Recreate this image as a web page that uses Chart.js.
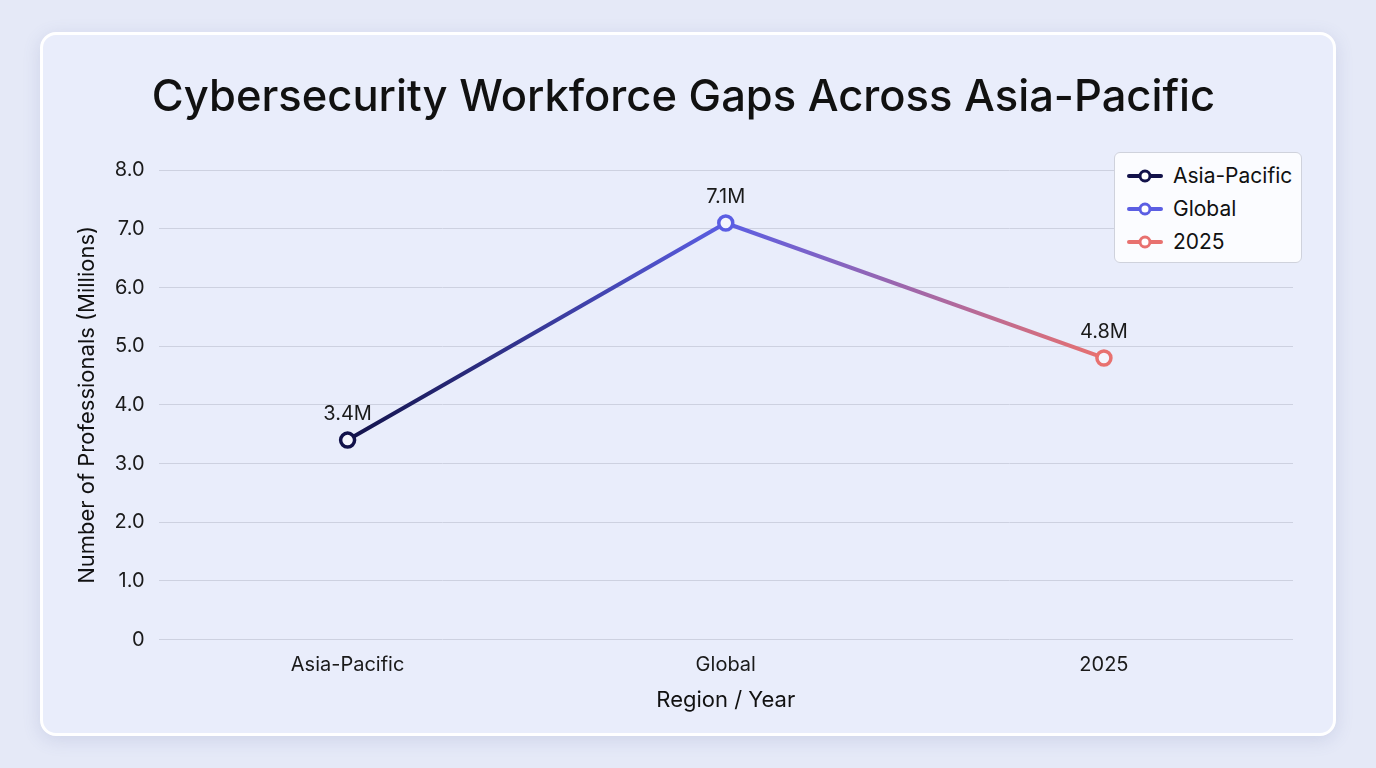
<!DOCTYPE html>
<html>
<head>
<meta charset="utf-8">
<script src="https://cdn.jsdelivr.net/npm/chart.js@4.4.1/dist/chart.umd.min.js"></script>
<style>
  html, body { margin: 0; padding: 0; }
  body {
    width: 1376px; height: 768px; overflow: hidden;
    background: #e5e9f7;
    font-family: Inter, "Noto Sans", sans-serif;
  }
  #card {
    position: absolute; left: 40px; top: 32px;
    width: 1296px; height: 704px; box-sizing: border-box;
    border: 3px solid #ffffff; border-radius: 16px;
    background: #e9edfb;
    box-shadow: 0 4px 18px rgba(90, 100, 160, 0.16);
  }
  #card canvas { position: absolute; left: 0; top: 0; }
  #legend {
    position: absolute; left: 1114px; top: 152px;
    width: 188px; height: 111px; box-sizing: border-box;
    background: #fbfcff; border: 1px solid #cfd2dc; border-radius: 6px;
    padding: 6px 0 0 12px;
  }
  .item { display: flex; align-items: center; height: 33px; font-size: 21px; color: #111; }
  .item svg { margin-right: 10px; }
</style>
</head>
<body>
<div id="card"><canvas id="chart"></canvas></div>
<div id="legend"></div>
<script>
// chart data
var categories = ['Asia-Pacific', 'Global', '2025'];
var gapValues = [3.4, 7.1, 4.8];
var pointLabels = ['3.4M', '7.1M', '4.8M'];
var pointColors = ['#12124a', '#5b5ee3', '#e8716f'];

// legend built in html
var legend = document.getElementById('legend');
categories.forEach(function(name, i) {
    var c = pointColors[i];
    legend.innerHTML += '<div class="item"><svg width="36" height="14">' +
        '<line x1="2" y1="7" x2="34" y2="7" stroke="' + c + '" stroke-width="4" stroke-linecap="round"/>' +
        '<circle cx="18" cy="7" r="5" fill="#ffffff" stroke="' + c + '" stroke-width="3"/></svg>' +
        name + '</div>';
});

var labelPlugin = {
    id: 'pointLabels',
    afterDatasetsDraw: function(chart) {
        var ctx = chart.ctx;
        var meta = chart.getDatasetMeta(0);
        ctx.save();
        ctx.font = '20px Inter, "Noto Sans", sans-serif';
        ctx.fillStyle = '#1a1a1a';
        ctx.textAlign = 'center';
        ctx.textBaseline = 'bottom';
        meta.data.forEach(function(pt, i) {
            ctx.fillText(pointLabels[i], pt.x, pt.y - 16);
        });
        ctx.restore();
    }
};

function lineGradient(context) {
    var chart = context.chart;
    if (!chart.chartArea) return pointColors[0];
    var x = chart.scales.x;
    var x0 = x.getPixelForValue(0);
    var x1 = x.getPixelForValue(categories.length - 1);
    var g = chart.ctx.createLinearGradient(x0, 0, x1, 0);
    pointColors.forEach(function(c, i) {
        g.addColorStop(i / (pointColors.length - 1), c);
    });
    return g;
}

var canvas = document.getElementById('chart');
canvas.width = 1290;
canvas.height = 698;

Chart.defaults.font.family = 'Inter, "Noto Sans", sans-serif';
Chart.defaults.color = '#1a1a1a';

new Chart(canvas.getContext('2d'), {
    type: 'line',
    data: {
        labels: categories,
        datasets: [{
            label: 'Workforce Gap',
            data: gapValues,
            borderColor: lineGradient,
            borderWidth: 4,
            tension: 0,
            fill: false,
            pointRadius: 7,
            pointHoverRadius: 7,
            pointBorderWidth: 3.5,
            pointBackgroundColor: '#f4f5fd',
            pointBorderColor: pointColors
        }]
    },
    options: {
        responsive: false,
        animation: false,
        layout: { padding: { left: 31, right: 40, bottom: 15 } },
        plugins: {
            legend: { display: false },
            tooltip: { enabled: false },
            title: {
                display: true,
                text: 'Cybersecurity Workforce Gaps Across Asia-Pacific',
                color: '#111111',
                font: { size: 43.5, weight: '500' },
                padding: { top: 37, bottom: 46 }
            }
        },
        scales: {
            x: {
                offset: true,
                grid: { display: false },
                border: { display: false },
                ticks: { font: { size: 20 }, color: '#1a1a1a', padding: 5 },
                title: { display: true, text: 'Region / Year', font: { size: 22 }, color: '#111', padding: { top: 6, bottom: 4 } }
            },
            y: {
                min: 0,
                max: 8,
                grid: { color: '#cdd1e0', lineWidth: 1, drawTicks: false },
                border: { display: false },
                ticks: {
                    stepSize: 1,
                    font: { size: 20 },
                    color: '#1a1a1a',
                    padding: 14,
                    callback: function(v) { return v === 0 ? '0' : v.toFixed(1); }
                },
                title: { display: true, text: 'Number of Professionals (Millions)', font: { size: 22 }, color: '#111', padding: { top: 0, bottom: 0 } }
            }
        }
    },
    plugins: [labelPlugin]
});
</script>
</body>
</html>
